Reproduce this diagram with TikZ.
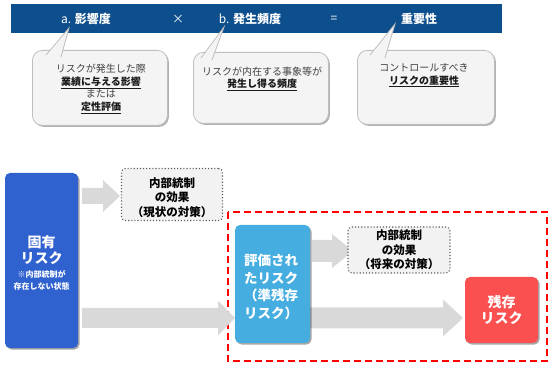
\documentclass[tikz,border=0pt]{standalone}
\usepackage{fontspec}
\setmainfont{Noto Sans CJK JP}
\usetikzlibrary{shadows}
\definecolor{barblue}{HTML}{0D4E8C}
\definecolor{koyublue}{HTML}{3062CF}
\definecolor{hyokablue}{HTML}{45ADE0}
\definecolor{zanred}{HTML}{FA5050}
\definecolor{arrowgray}{HTML}{D9D9D9}
\definecolor{callfill}{HTML}{F4F4F4}
\definecolor{callline}{HTML}{BFBFBF}
\definecolor{dotfill}{HTML}{F2F2F2}
\definecolor{dotline}{HTML}{595959}
\definecolor{txtgray}{HTML}{404040}
\definecolor{txtdark}{HTML}{1A1A1A}
\definecolor{dashred}{HTML}{FF0000}
\newcommand\myblockarrow[6]{%
  \fill[arrowgray] (#1,#3-#4) -- (#2-#6,#3-#4) -- (#2-#6,#3-#5) -- (#2,#3)
    -- (#2-#6,#3+#5) -- (#2-#6,#3+#4) -- (#1,#3+#4) -- cycle;}
\tikzset{
  bartext/.style={text=white, font=\fontsize{12}{14}\selectfont, inner sep=0pt},
  callbox/.style={draw=callline, fill=callfill, rounded corners=10pt, line width=0.8pt,
    drop shadow={shadow xshift=1.5pt, shadow yshift=-1.5pt, opacity=0.3, fill=black}},
  calltip/.style={draw=callline, line width=0.8pt},
  calltext/.style={align=center, text=txtgray, inner sep=0pt, font=\fontsize{10}{12.5}\selectfont},
  riskbox/.style={rounded corners=5pt, text=white, inner sep=0pt,
    drop shadow={shadow xshift=1.5pt, shadow yshift=-1.5pt, opacity=0.35, fill=black}},
  dotbox/.style={draw=dotline, fill=dotfill, dotted, line width=1.1pt, rounded corners=4pt},
  dottext/.style={align=center, text=black, inner sep=0pt, font=\bfseries\fontsize{11.5}{14.5}\selectfont},
  bigtext/.style={align=center, text=white, inner sep=0pt, font=\bfseries\fontsize{14}{16}\selectfont},
}
\begin{document}
\begin{tikzpicture}[x=1pt,y=-1pt]
\useasboundingbox (0,0) rectangle (552,366);
% top bar
\node[fill=barblue, minimum width=491pt, minimum height=29pt, inner sep=0pt, anchor=north west] (bar) at (11,4) {};
\node[bartext] (ta) at (86,19) {a. \textbf{影響度}};
\node[bartext] (tx) at (178,19) {×};
\node[bartext] (tb) at (250,19) {b. \textbf{発生頻度}};
\node[bartext] (teq) at (334,19) {=};
\node[bartext] (tc) at (419,19) {\textbf{重要性}};
% callouts
\node[callbox, minimum width=135pt, minimum height=75pt, anchor=north west] (c1) at (32,50) {};
\fill[callfill] (46,55) -- (69,28) -- (61,57) -- cycle;
\draw[calltip] (46,55) -- (69,28) -- (61,57);
\node[calltext] (c1t) at (101,89) {リスクが発生した際\\
  \textcolor{txtdark}{\textbf{\underline{業績に与える影響}}}\\
  または\\
  \textcolor{txtdark}{\textbf{\underline{定性評価}}}};
\node[callbox, minimum width=135pt, minimum height=71pt, anchor=north west] (c2) at (193,52) {};
\fill[callfill] (201,58) -- (224,27) -- (212,60) -- cycle;
\draw[calltip] (201,58) -- (224,27) -- (212,60);
\node[calltext] (c2t) at (262,79) {リスクが内在する事象等が\\
  \textcolor{txtdark}{\textbf{\underline{発生し得る頻度}}}};
\node[callbox, minimum width=137pt, minimum height=74pt, anchor=north west] (c3) at (357,50) {};
\fill[callfill] (370,55) -- (395,24) -- (385,58) -- cycle;
\draw[calltip] (370,55) -- (395,24) -- (385,58);
\node[calltext] (c3t) at (424,75.5) {コントロールすべき\\
  \textcolor{txtdark}{\textbf{\underline{リスクの重要性}}}};
% red dashed frame
\draw[dashred, line width=1.4pt, dash pattern=on 7pt off 4pt] (228,212) rectangle (547,361);
% block arrows
\myblockarrow{82}{120}{196}{8}{16}{17}
\myblockarrow{82}{235}{318}{10}{17.5}{17}
\myblockarrow{312}{353}{251}{11}{17}{21}
\myblockarrow{310}{463}{318}{10.5}{18.5}{20}
% dotted boxes
\node[dotbox, minimum width=101pt, minimum height=52pt] (d1) at (172,194.5) {};
\node[dottext] (d1t) at (172,197.5) {内部統制\\の効果\\（現状の対策）};
\node[dotbox, minimum width=102pt, minimum height=46pt] (d2) at (399,250) {};
\node[dottext] (d2t) at (399,250) {内部統制\\の効果\\（将来の対策）};
% risk boxes
\node[riskbox, fill=koyublue, minimum width=73pt, minimum height=175pt] (koyu) at (41.5,260.5) {};
\node[bigtext] (koyut) at (41.5,250) {固有\\リスク};
\node[align=center, text=white, inner sep=0pt, font=\bfseries\fontsize{8}{12.5}\selectfont] (koyus) at (41.5,280.5) {※内部統制が\\存在しない状態};
\node[riskbox, fill=hyokablue, minimum width=75pt, minimum height=118pt] (hyoka) at (272.5,284) {};
\node[align=left, text=white, inner sep=0pt, font=\bfseries\fontsize{13.5}{17.7}\selectfont, anchor=west] (hyokat) at (244,287) {評価され\\たリスク\\（準残存\\リスク）};
\node[riskbox, fill=zanred, minimum width=73pt, minimum height=66pt] (zan) at (501.5,310) {};
\node[bigtext] (zant) at (501.5,310) {残存\\リスク};
\end{tikzpicture}
\end{document}
